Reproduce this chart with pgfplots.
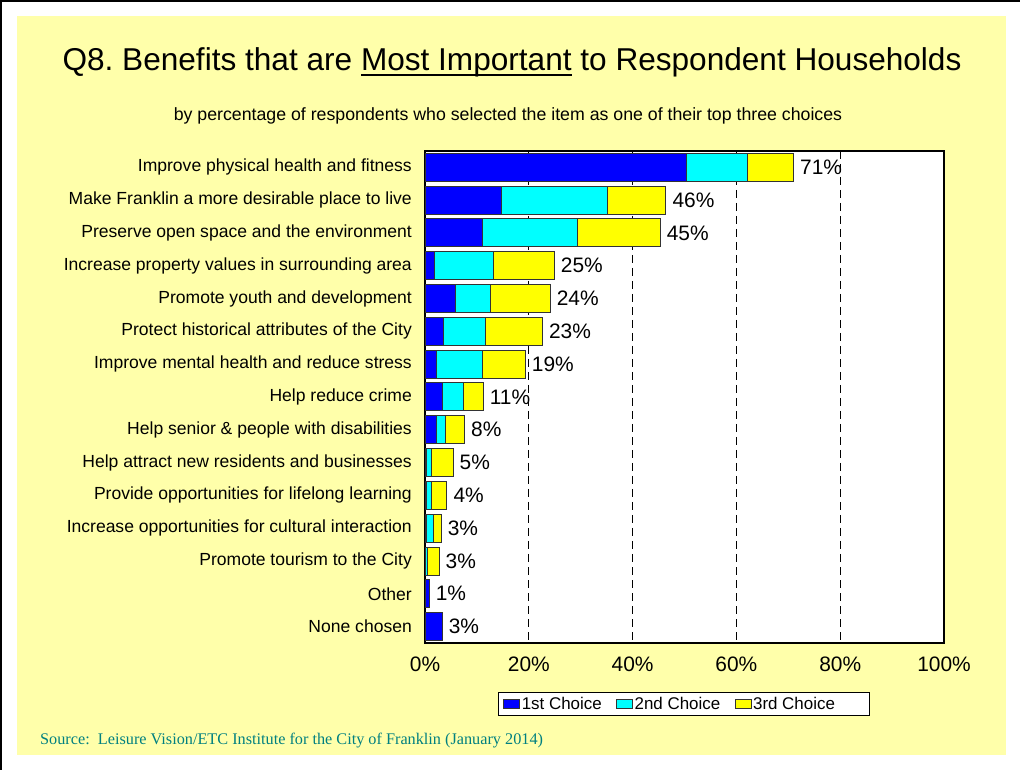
\documentclass[border=0pt]{standalone}
\usepackage{pgfplots}
\pgfplotsset{compat=1.18}
\usepackage{pgfplotstable}
\usepackage{fontspec}
\setmainfont{Liberation Sans}
\newfontfamily\timesfont{Liberation Serif}
\definecolor{bgyellow}{HTML}{FFFFAA}
\definecolor{c1}{HTML}{0000FF}
\definecolor{c2}{HTML}{00FFFF}
\definecolor{c3}{HTML}{FFFF00}
\definecolor{srcteal}{HTML}{008080}
\newcommand\ul[1]{\setbox0\hbox{#1}\rlap{\rule[-5.3bp]{\wd0}{2.3bp}}\box0\relax}

\pgfplotstableread[col sep=comma]{
y,first,second,third,total,lab
1,50.4,11.8,8.8,71.0,71\%
2,14.7,20.5,11.2,46.4,46\%
3,11.0,18.4,15.9,45.3,45\%
4,1.9,11.3,11.7,24.9,25\%
5,5.8,6.8,11.5,24.1,24\%
6,3.5,8.2,10.9,22.6,23\%
7,2.2,8.9,8.2,19.3,19\%
8,3.3,4.2,3.7,11.2,11\%
9,2.2,1.8,3.6,7.6,8\%
10,0.2,1.0,4.2,5.4,5\%
11,0.2,1.0,3.0,4.2,4\%
12,0.2,1.5,1.4,3.1,3\%
13,0.0,0.4,2.3,2.7,3\%
14,0.8,0.0,0.0,0.8,1\%
15,3.3,0.0,0.0,3.3,3\%
}\datatable

\begin{document}
\frenchspacing
\begin{tikzpicture}[x=1bp,y=1bp]
\path[use as bounding box] (0,0) rectangle (1020,770);
\fill[white] (0,0) rectangle (1020,770);
\fill[bgyellow] (17,14.5) rectangle (1005.5,754);
\draw[black,line width=1.2bp] (1,0) -- (1,769) -- (1020,769);

\node[anchor=base,inner sep=0,font=\fontsize{31.7}{36}\selectfont] at (512,699) {Q8. Benefits that are \ul{Most Important} to Respondent Households};
\node[anchor=base,inner sep=0,font=\fontsize{17.8}{21}\selectfont] at (508,649) {by percentage of respondents who selected the item as one of their top three choices};
\node[anchor=base west,inner sep=0,font=\fontsize{16.3}{19}\timesfont,text=srcteal] at (40,25) {Source:\ \ Leisure Vision/ETC Institute for the City of Franklin (January 2014)};

\begin{axis}[
  at={(425bp,127bp)}, anchor=south west,
  scale only axis, width=519bp, height=492bp,
  xbar stacked, bar width=28bp,
  xmin=0, xmax=100,
  ymin=0.5, ymax=15.5, y dir=reverse,
  axis background/.style={fill=white},
  axis line style={black,line width=1.6bp},
  xtick={0,20,40,60,80,100},
  xticklabel={\pgfmathprintnumber{\tick}\%},
  /pgf/number format/assume math mode=true,
  xticklabel style={font=\fontsize{21}{25}\selectfont, inner sep=0pt, anchor=north, yshift=-14bp},
  xmajorgrids, major grid style={black,line width=0.8bp,dash pattern=on 8bp off 5bp},
  major tick length=0pt,
  ytick={1,...,15},
  yticklabels={Improve physical health and fitness, Make Franklin a more desirable place to live, Preserve open space and the environment, Increase property values in surrounding area, Promote youth and development, Protect historical attributes of the City, Improve mental health and reduce stress, Help reduce crime, Help senior \& people with disabilities, Help attract new residents and businesses, Provide opportunities for lifelong learning, Increase opportunities for cultural interaction, Promote tourism to the City, Other, None chosen},
  yticklabel style={font=\fontsize{17.6}{21}\selectfont, inner sep=0pt, anchor=east, xshift=-13bp},
  legend style={at={(0.499,-0.124)}, anchor=center, legend columns=3, draw=black, line width=0.8bp, fill=white, font=\fontsize{17}{20}\selectfont, inner xsep=5bp, inner ysep=3.5bp, nodes={inner sep=1.5bp}, /tikz/every even column/.append style={column sep=13bp}},
  legend image code/.code={\draw[#1,line width=0.8bp] (0bp,-4.5bp) rectangle (16bp,4.5bp);},
  clip=false,
]
\addplot[fill=c1, draw=black!80, line width=1bp] table[x=first,y=y] {\datatable};
\addplot[fill=c2, draw=black!80, line width=1bp] table[x=second,y=y] {\datatable};
\addplot[fill=c3, draw=black!80, line width=1bp] table[x=third,y=y] {\datatable};
\legend{1st Choice, 2nd Choice, 3rd Choice\hspace*{28bp}}
\end{axis}

\begin{axis}[
  at={(425bp,127bp)}, anchor=south west,
  scale only axis, width=519bp, height=492bp,
  xmin=0, xmax=100,
  ymin=0.5, ymax=15.5, y dir=reverse,
  hide axis, clip=false,
]
\addplot[only marks, mark=none,
  nodes near coords, point meta=explicit symbolic,
  every node near coord/.append style={font=\fontsize{21}{25}\selectfont, text=black, anchor=west, inner sep=0pt, xshift=6.5bp}]
  table[x=total,y=y,meta=lab] {\datatable};
\end{axis}
\end{tikzpicture}
\end{document}
